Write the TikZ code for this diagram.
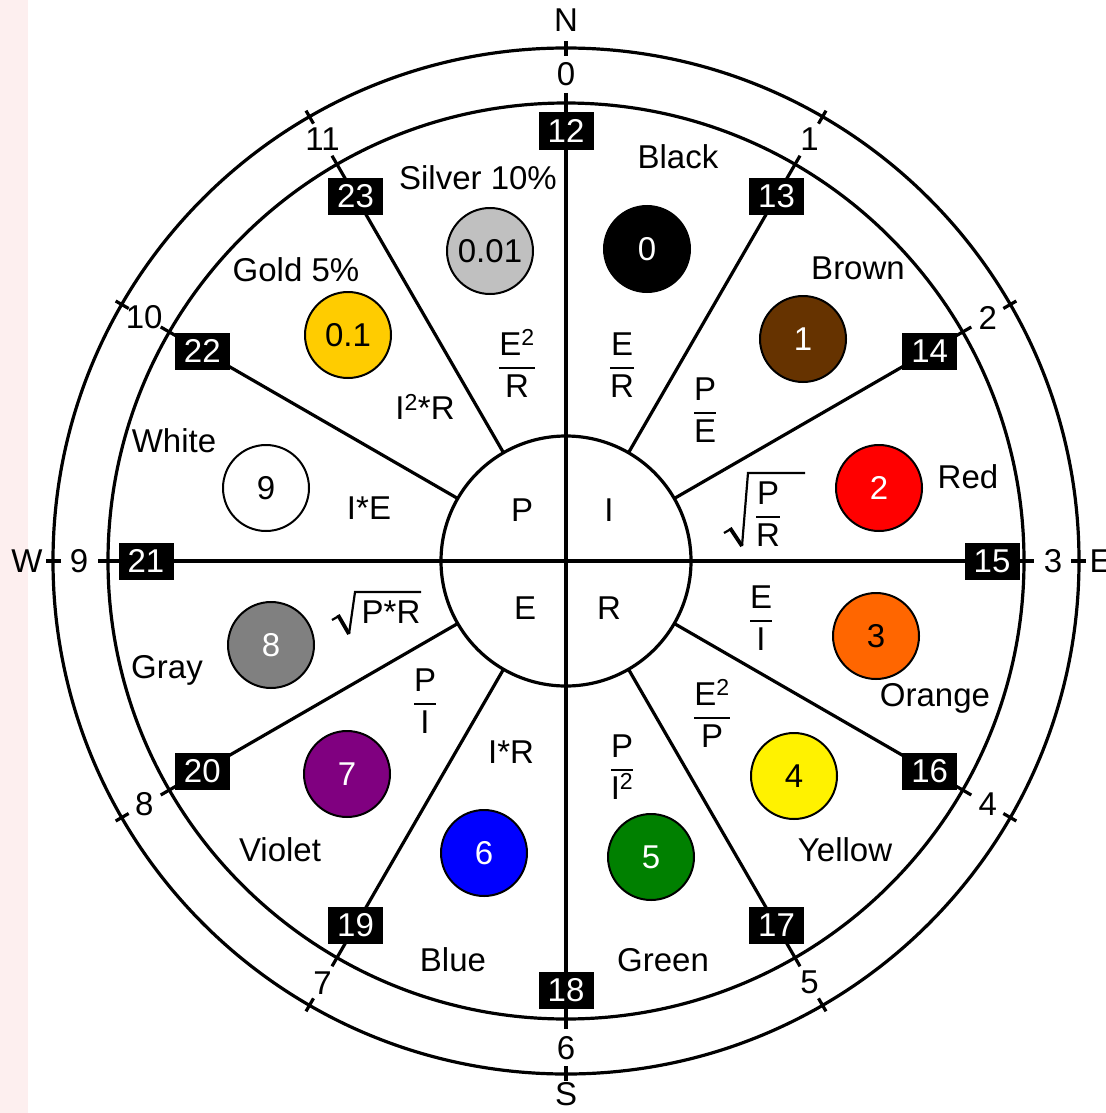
\documentclass[tikz,border=0pt]{standalone}
\usepackage{fontspec}
\setmainfont{Liberation Sans}
\usetikzlibrary{calc}
\setlength{\arrayrulewidth}{2pt}
\newcommand{\fr}[2]{\begin{tabular}{@{}c@{}}#1\\\hline #2\end{tabular}}
\definecolor{cbrown}{RGB}{102,51,0}
\definecolor{corange}{RGB}{255,102,0}
\definecolor{cgreen}{RGB}{0,128,0}
\definecolor{cviolet}{RGB}{128,0,128}
\definecolor{cgray}{RGB}{128,128,128}
\definecolor{cgold}{RGB}{255,204,0}
\definecolor{csilver}{RGB}{192,192,192}
\definecolor{pinkbg}{RGB}{253,239,239}
\begin{document}
\begin{tikzpicture}[x=1pt,y=-1pt,line width=3.2pt,
  every node/.style={font=\fontsize{33}{40}\selectfont},
  numbox/.style={fill=black,text=white,minimum width=55pt,minimum height=37pt,inner sep=0pt},
  band/.style={circle,draw=black,line width=2pt,minimum size=86pt,inner sep=0pt},
  lbl/.style={inner sep=1pt},
  radthin/.style={line width=2.2pt,line join=miter},
  radthick/.style={line width=3.8pt,line cap=butt}]
\useasboundingbox (0,0) rectangle (1105,1113);
\fill[white] (0,0) rectangle (1105,1113);
\fill[pinkbg] (0,0) rectangle (28,1113);
\coordinate (O) at (566,561);
% rings
\draw (O) circle [radius=513];
\draw (O) circle [radius=458];
\foreach \k in {0,...,11} {
  \draw[shift={(O)}] ({30*\k-90}:505) -- ({30*\k-90}:520);
}
% hub and spokes
\node[circle,draw,line width=3.2pt,minimum size=250pt,inner sep=0pt] (hub) at (O) {};
\draw (566,93) -- (566,1029);
\draw (98,561) -- (1034,561);
\foreach \k in {1,2,4,5,7,8,10,11} {
  \draw[shift={(O)}] ({30*\k-90}:125) -- ({30*\k-90}:468);
}
% hour numbers
\foreach \k in {0,...,11} {
  \path[shift={(O)}] ({30*\k-90}:487) node[lbl] (h\k) {\k};
}
% compass
\node[lbl] (cN) at (566,20) {N};
\node[lbl] (cS) at (566,1094) {S};
\node[lbl] (cW) at (27,561) {W};
\node[lbl,anchor=west] (cE) at (1087,561) {E};
% black number boxes
\foreach \k/\n/\r in {0/12/430,1/13/421,2/14/420,3/15/426,4/16/420,5/17/421,6/18/429,7/19/421,8/20/420,9/21/420,10/22/420,11/23/421} {
  \path[shift={(O)}] ({30*\k-90}:\r) node[numbox] (b\n) {\n};
}
% hub letters
\node[lbl] (qP) at (522,510) {P};
\node[lbl] (qI) at (609,510) {I};
\node[lbl] (qE) at (525,608) {E};
\node[lbl] (qR) at (609,608) {R};
% colour bands
\node[band,fill=black,text=white] (c0) at (647,249) {0};
\node[band,fill=cbrown,text=white] (c1) at (803,339) {1};
\node[band,fill=red,text=white] (c2) at (879,488) {2};
\node[band,fill=corange,text=black] (c3) at (876,636) {3};
\node[band,fill=yellow,text=black] (c4) at (794,776) {4};
\node[band,fill=cgreen,text=white] (c5) at (651,857) {5};
\node[band,fill=blue,text=white] (c6) at (484,853) {6};
\node[band,fill=cviolet,text=white] (c7) at (347,774) {7};
\node[band,fill=cgray,text=white] (c8) at (271,645) {8};
\node[band,fill=white,text=black] (c9) at (266,488) {9};
\node[band,fill=cgold,text=black] (cgd) at (348,335) {0.1};
\node[band,fill=csilver,text=black] (csv) at (490,251) {0.01};
% colour names
\node[lbl] (nBlack) at (678,157) {Black};
\node[lbl] (nSilver) at (478,178) {Silver 10\%};
\node[lbl] (nBrown) at (858,268) {Brown};
\node[lbl] (nGold) at (296,270) {Gold 5\%};
\node[lbl] (nRed) at (968,477) {Red};
\node[lbl] (nWhite) at (174,441) {White};
\node[lbl] (nOrange) at (935,698) {Orange};
\node[lbl] (nGray) at (167,670) {Gray};
\node[lbl] (nYellow) at (845,850) {Yellow};
\node[lbl] (nViolet) at (280,850) {Violet};
\node[lbl] (nGreen) at (663,960) {Green};
\node[lbl] (nBlue) at (453,960) {Blue};
% formulas
\node[lbl] (fE2R) at (517,368) {\fr{E\textsuperscript{2}}{R}};
\node[lbl] (fER) at (622,368) {\fr{E}{R}};
\node[lbl] (fPE) at (705,413) {\fr{P}{E}};
\node[lbl] (fsPR) at (768,517) {\fr{P}{R}};
\draw[radthin] ($(fsPR)+(-44,16)$) -- ($(fsPR)+(-37,12)$);
\draw[radthick] ($(fsPR)+(-38,11)$) -- ($(fsPR)+(-26,29)$);
\draw[radthin] ($(fsPR)+(-26,29)$) -- ($(fsPR)+(-20,-44)$) -- ($(fsPR)+(37,-44)$);
\node[lbl] (fEI) at (761,621) {\fr{E}{I}};
\node[lbl] (fE2P) at (712,718) {\fr{E\textsuperscript{2}}{P}};
\node[lbl] (fPI2) at (622,770) {\fr{P}{I\textsuperscript{2}}};
\node[lbl] (fIR) at (511,752) {I*R};
\node[lbl] (fPI) at (425,704) {\fr{P}{I}};
\node[lbl] (fsPxR) at (391,612) {P*R};
\draw[radthin] ($(fsPxR)+(-59,8)$) -- ($(fsPxR)+(-52,4)$);
\draw[radthick] ($(fsPxR)+(-53,3)$) -- ($(fsPxR)+(-42,22)$);
\draw[radthin] ($(fsPxR)+(-42,22)$) -- ($(fsPxR)+(-36,-20)$) -- ($(fsPxR)+(30,-20)$);
\node[lbl] (fIE) at (369,508) {I*E};
\node[lbl] (fI2R) at (425,407) {I\textsuperscript{2}*R};
\end{tikzpicture}
\end{document}
